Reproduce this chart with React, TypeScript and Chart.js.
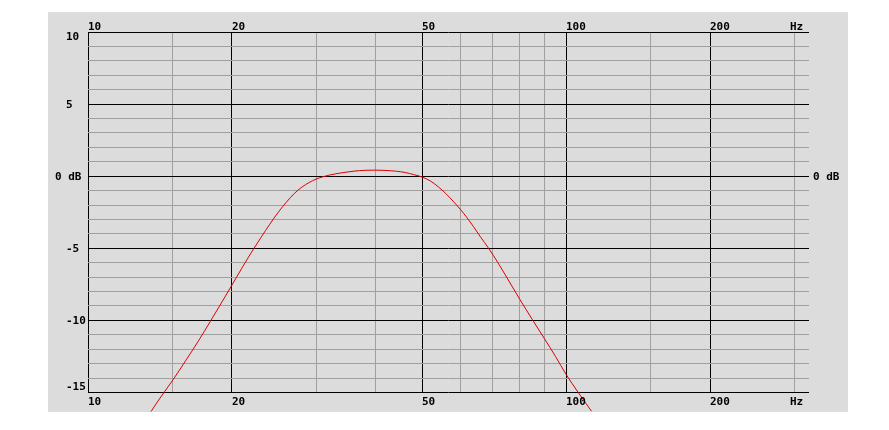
import React, { useEffect, useRef } from "react";
import { Chart, registerables } from "chart.js";

Chart.register(...registerables);

const freqHz = [13.5, 14, 15, 16, 17, 18, 19, 20, 21, 22, 23, 24, 25, 26, 27, 28, 29, 30, 31, 32, 34, 36, 38, 40, 42, 44, 46, 48, 50, 52, 54, 56, 58, 60, 62, 64, 66, 69, 72, 76, 80, 85, 90, 95, 100, 106, 113];
const levelDb = [-16.4, -15.6, -14.2, -12.8, -11.45, -10.1, -8.8, -7.55, -6.35, -5.25, -4.25, -3.33, -2.5, -1.8, -1.2, -0.76, -0.44, -0.2, -0.04, 0.08, 0.24, 0.35, 0.41, 0.42, 0.4, 0.35, 0.26, 0.11, -0.06, -0.33, -0.73, -1.2, -1.73, -2.28, -2.87, -3.5, -4.15, -5.05, -6.0, -7.3, -8.54, -9.95, -11.25, -12.5, -13.75, -15.0, -16.3];

const xGridValues = [10, 15, 20, 30, 40, 50, 60, 70, 80, 90, 100, 150, 200, 300];
const xMajorValues = [10, 20, 50, 100, 200];
const xLabelValues = [10, 20, 50, 100, 200];
const yLabelValues = [10, 5, 0, -5, -10, -15];
const xUnit = "Hz";
const yUnit = "dB";

const FONT = "bold 11px 'DejaVu Sans Mono', monospace";

const panelPlugin = {
  id: "panel",
  beforeDraw(chart: any) {
    const c = chart.ctx;
    c.save();
    c.fillStyle = "#ffffff";
    c.fillRect(0, 0, chart.width, chart.height);
    c.fillStyle = "#dcdcdc";
    c.fillRect(48, 12, 800, 400);
    c.restore();
  },
  afterDraw(chart: any) {
    const c = chart.ctx;
    const xs = chart.scales.x;
    const ys = chart.scales.y;
    const area = chart.chartArea;
    c.save();
    c.fillStyle = "#000000";
    c.font = FONT;
    c.textAlign = "left";
    c.textBaseline = "alphabetic";
    for (const v of xLabelValues) {
      const px = Math.round(xs.getPixelForValue(v));
      c.fillText(String(v), px, area.top - 2);
      c.fillText(String(v), px, area.bottom + 12);
    }
    c.fillText(xUnit, 790, area.top - 2);
    c.fillText(xUnit, 790, area.bottom + 12);
    for (const v of yLabelValues) {
      const py = ys.getPixelForValue(v);
      let text = String(v);
      let x = 66;
      if (v === 0) {
        text = "0 " + yUnit;
        x = 55;
      }
      if (v === 10) {
        c.textBaseline = "top";
        c.fillText(text, x, py);
      } else if (v === -15) {
        c.textBaseline = "alphabetic";
        c.fillText(text, x, py - 3);
      } else {
        c.textBaseline = "middle";
        c.fillText(text, x, py + 1);
      }
    }
    c.textBaseline = "middle";
    c.fillText("0 " + yUnit, 813, ys.getPixelForValue(0) + 1);
    c.restore();
  },
};

export default function App() {
  const ref = useRef<HTMLCanvasElement | null>(null);
  useEffect(() => {
    if (!ref.current) return;
    const chart = new Chart(ref.current, {
      type: "line",
      data: {
        datasets: [
          {
            data: freqHz.map((f, i) => ({ x: f, y: levelDb[i] })),
            borderColor: "rgb(220,0,0)",
            borderWidth: 1,
            pointRadius: 0,
            cubicInterpolationMode: "monotone",
            fill: false,
            clip: { left: 0, top: 0, right: 0, bottom: 19 } as any,
          },
        ],
      },
      options: {
        responsive: false,
        animation: false,
        devicePixelRatio: 1,
        layout: { padding: { left: 88, top: 32, right: 80, bottom: 37.5 } },
        plugins: { legend: { display: false }, tooltip: { enabled: false } },
        scales: {
          x: {
            type: "logarithmic",
            min: 10,
            max: 322,
            afterBuildTicks(scale: any) {
              scale.ticks = xGridValues.map((v) => ({ value: v }));
            },
            ticks: { display: false },
            border: { display: false },
            grid: {
              drawTicks: false,
              lineWidth: 1,
              color: (ctx: any) =>
                xMajorValues.includes(ctx.tick?.value) ? "#000000" : "#a0a0a0",
            },
          },
          y: {
            type: "linear",
            min: -15,
            max: 10,
            ticks: { display: false, stepSize: 1 },
            border: { display: false },
            grid: {
              drawTicks: false,
              lineWidth: 1,
              color: (ctx: any) =>
                ctx.tick && Math.round(ctx.tick.value) % 5 === 0 ? "#000000" : "#a0a0a0",
            },
          },
        },
      },
      plugins: [panelPlugin],
    });
    return () => chart.destroy();
  }, []);
  return (
    <div style={{ position: "absolute", left: 0, top: 0, width: 889, height: 430 }}>
      <canvas ref={ref} width={889} height={430} style={{ display: "block" }} />
    </div>
  );
}
